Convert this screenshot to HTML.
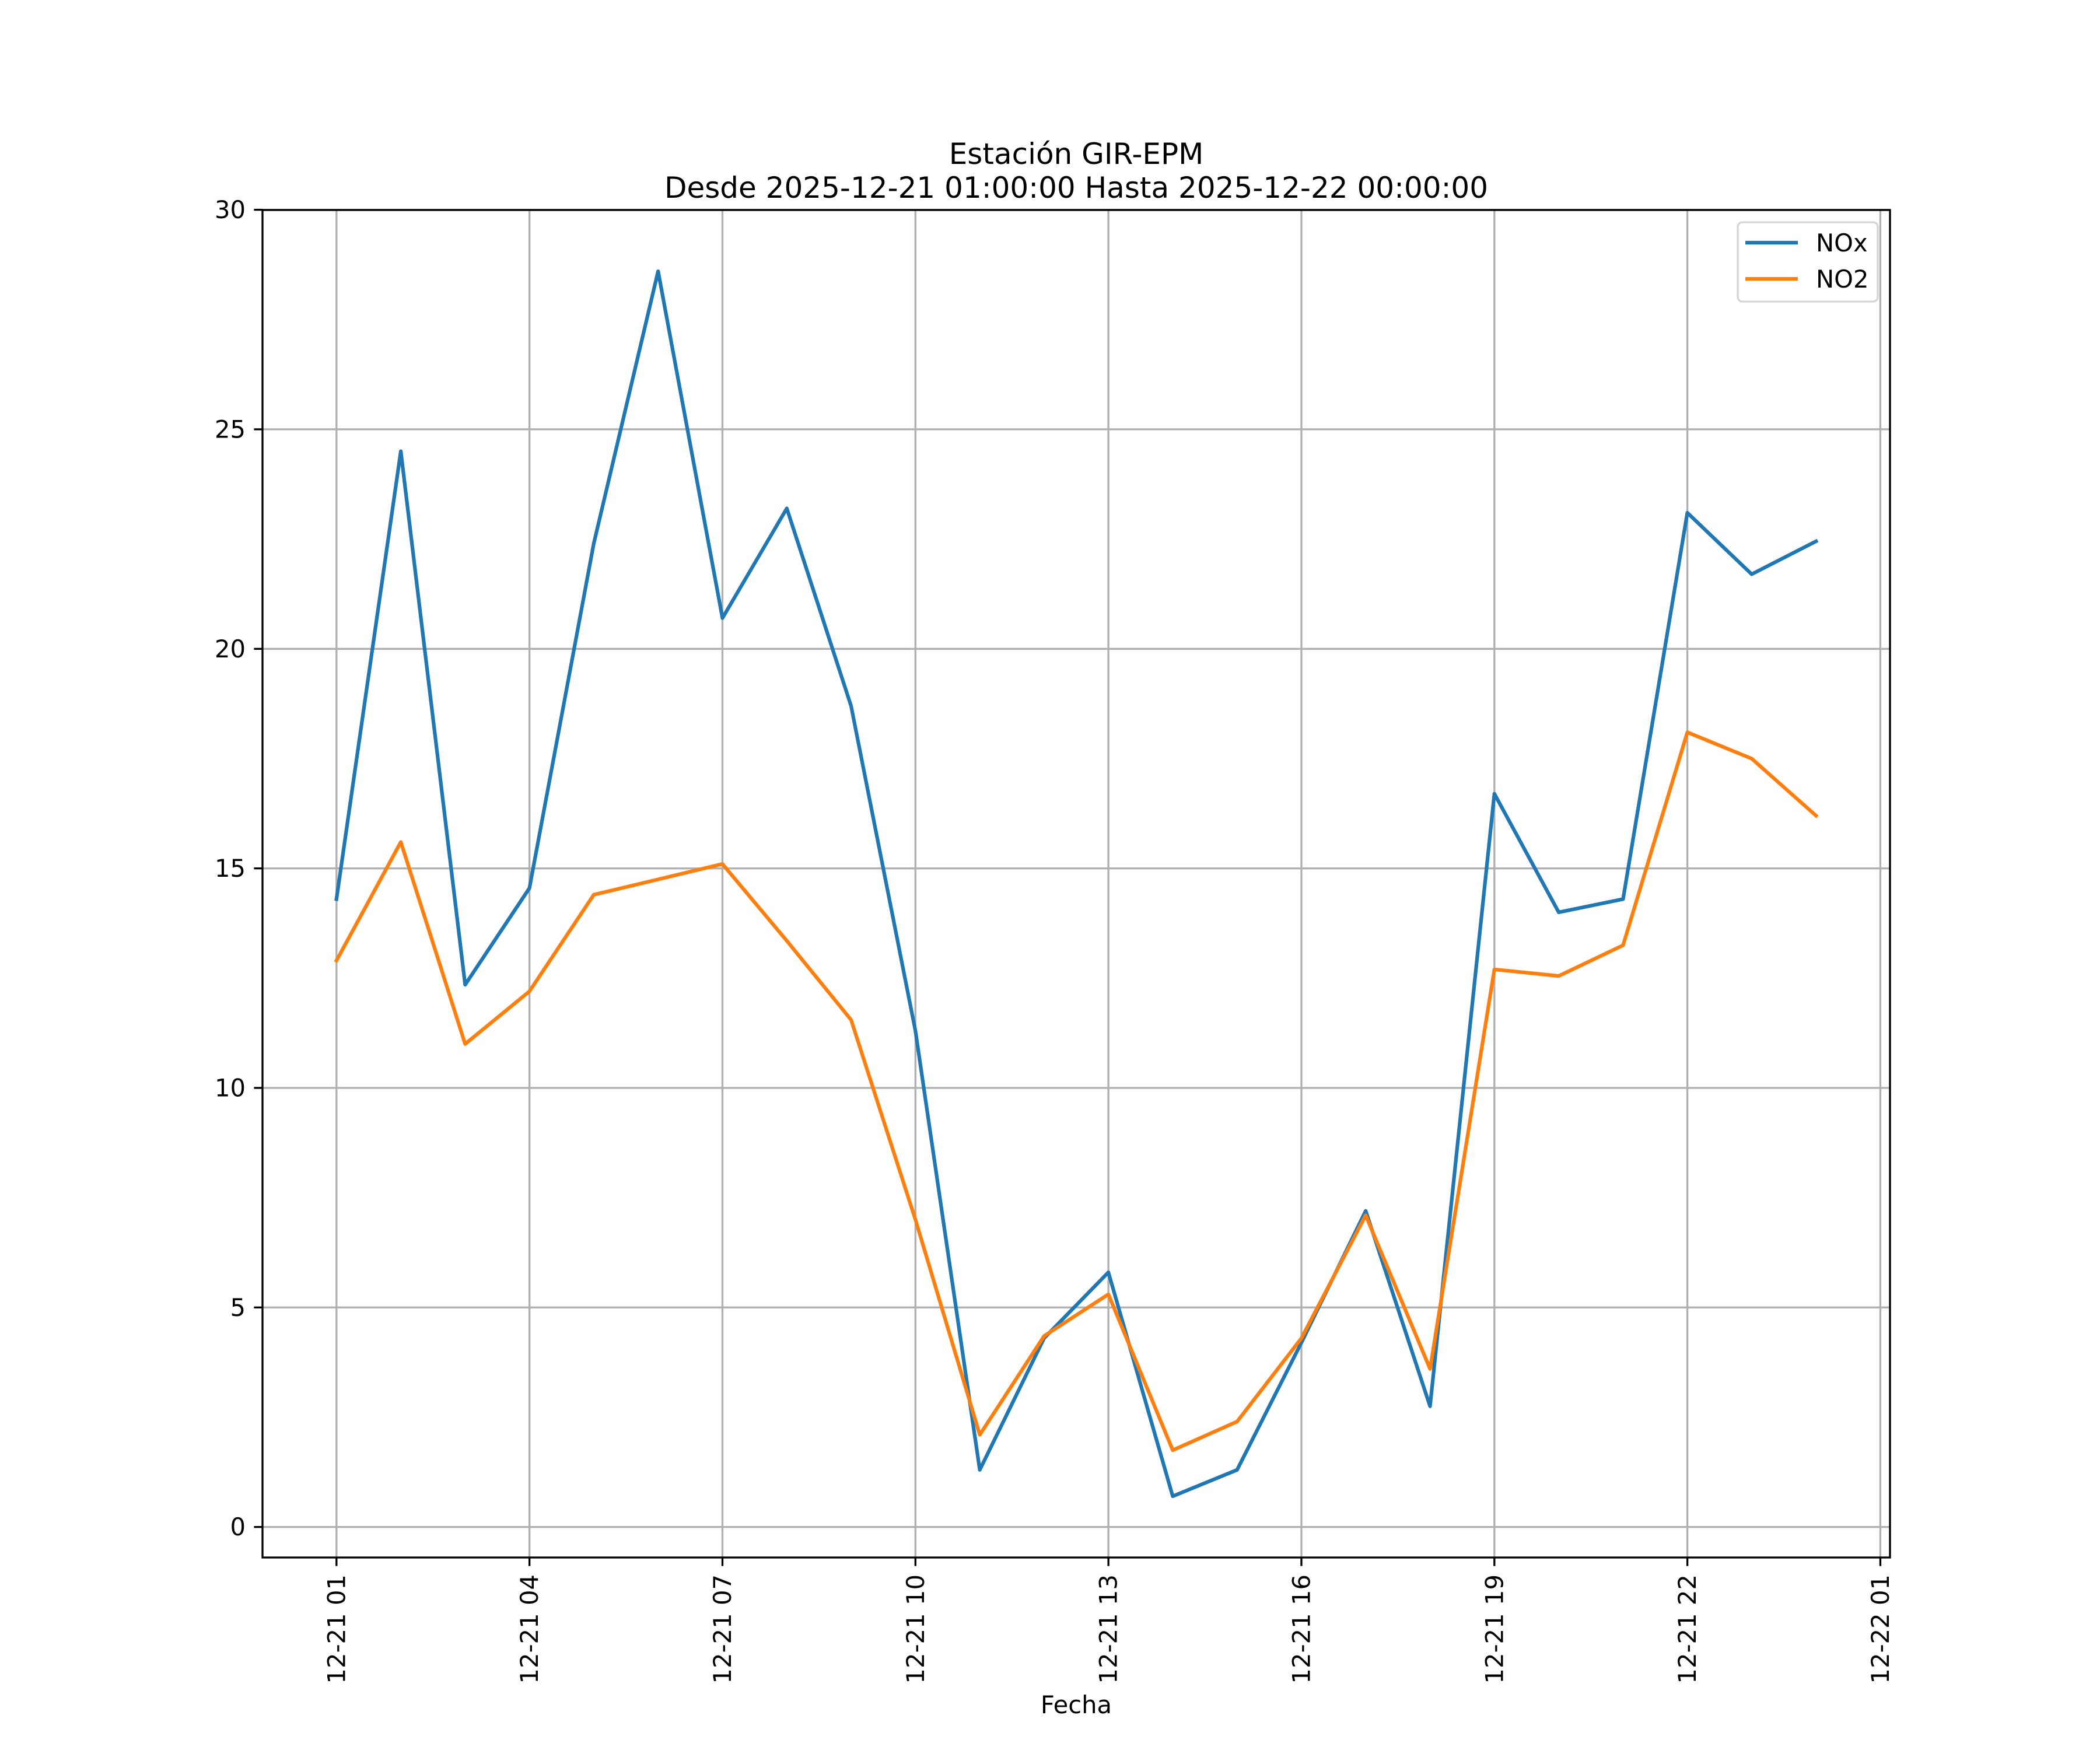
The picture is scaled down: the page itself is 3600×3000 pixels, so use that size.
<!DOCTYPE html>
<html><head><meta charset="utf-8"><style>html,body{margin:0;padding:0;background:#fff}svg{display:block}</style></head>
<body>
<svg id="chart" width="3600" height="3000" viewBox="0 0 3600 3000" xmlns="http://www.w3.org/2000/svg" font-family="'DejaVu Sans','Liberation Sans',sans-serif">
<rect width="3600" height="3000" fill="#fff"/>
<g id="grid"></g>
<g id="series"></g>
<rect x="450" y="360" width="2790" height="2310" fill="none" stroke="#000" stroke-width="3.33"/>
<g id="ticks"></g>
<text x="1845" y="281" font-size="50" text-anchor="middle">Estación GIR-EPM</text>
<text x="1845" y="339" font-size="50" text-anchor="middle">Desde 2025-12-21 01:00:00 Hasta 2025-12-22 00:00:00</text>
<text x="1845" y="2937" font-size="41.7" text-anchor="middle">Fecha</text>
<g>
<rect x="2979" y="381" width="240" height="136" rx="8" fill="#fff" fill-opacity="0.8" stroke="#d5d5d5" stroke-width="3.33"/>
<line x1="2992" y1="416" x2="3082" y2="416" stroke="#1f77b4" stroke-width="6.25"/>
<text x="3113" y="431" font-size="41.7">NOx</text>
<line x1="2992" y1="478" x2="3082" y2="478" stroke="#ff7f0e" stroke-width="6.25"/>
<text x="3113" y="493" font-size="41.7">NO2</text>
</g>
</svg>
<script>
const hours = [1,2,3,4,5,6,7,8,9,10,11,12,13,14,15,16,17,18,19,20,21,22,23,24];
const noxValues = [14.3,24.5,12.35,14.55,22.4,28.6,20.7,23.2,18.7,11.3,1.3,4.3,5.8,0.7,1.3,4.2,7.2,2.75,16.7,14.0,14.3,23.1,21.7,22.45];
const no2Values = [12.9,15.6,11.0,12.2,14.4,14.75,15.1,13.35,11.55,7.0,2.1,4.35,5.3,1.75,2.4,4.3,7.1,3.6,12.7,12.55,13.25,18.1,17.5,16.2];
const xTickHours = [1,4,7,10,13,16,19,22,25];
const xTickLabels = ["12-21 01","12-21 04","12-21 07","12-21 10","12-21 13","12-21 16","12-21 19","12-21 22","12-22 01"];
const yTickValues = [0,5,10,15,20,25,30];

const NS = "http://www.w3.org/2000/svg";
const L=450,R=3240,T=360,B=2670;
const hMin=Math.min(...hours),hMax=Math.max(...hours),hPad=(hMax-hMin)*0.05;
const allV=noxValues.concat(no2Values);
const vMin=Math.min(...allV),vMax=Math.max(...allV),vPad=(vMax-vMin)*0.05;
const x0=hMin-hPad,x1=hMax+hPad,y0=vMin-vPad,y1=vMax+vPad;
function X(h){return L+(h-x0)/(x1-x0)*(R-L);}
function Y(v){return B-(v-y0)/(y1-y0)*(B-T);}
function mk(tag,attrs,parent){const e=document.createElementNS(NS,tag);for(const k in attrs)e.setAttribute(k,attrs[k]);parent.appendChild(e);return e;}
const grid=document.getElementById('grid'),ticks=document.getElementById('ticks'),series=document.getElementById('series');
xTickHours.forEach((h,i)=>{
  const x=X(h);
  const g=mk('line',{x1:x,y1:T,x2:x,y2:B,stroke:'#b0b0b0','stroke-width':3.33},grid);
  
  
  const t=mk('line',{x1:x,y1:B,x2:x,y2:B+14.6,stroke:'#000','stroke-width':3.33},ticks);
  
  
  const lb=mk('text',{x:0,y:0,'font-size':41.7,'text-anchor':'end','dominant-baseline':'central',transform:`translate(${x},${B+29}) rotate(-90)`},ticks);
  lb.textContent=xTickLabels[i];
  
  
});
yTickValues.forEach(v=>{
  const y=Y(v);
  const g=mk('line',{x1:L,y1:y,x2:R,y2:y,stroke:'#b0b0b0','stroke-width':3.33},grid);
  
  
  const t=mk('line',{x1:L-14.6,y1:y,x2:L,y2:y,stroke:'#000','stroke-width':3.33},ticks);
  
  
  const lb=mk('text',{x:L-29,y:y,'font-size':41.7,'text-anchor':'end','dominant-baseline':'central'},ticks);
  lb.textContent=String(v);
  
  
});
function drawLine(vals,color,name){
  const pts=vals.map((v,i)=>X(hours[i]).toFixed(1)+','+Y(v).toFixed(1)).join(' ');
  const p=mk('polyline',{points:pts,fill:'none',stroke:color,'stroke-width':6.25,'stroke-linejoin':'round','stroke-linecap':'square'},series);
  
  
}
drawLine(noxValues,'#1f77b4','nox-line');
drawLine(no2Values,'#ff7f0e','no2-line');
</script>
</body></html>
